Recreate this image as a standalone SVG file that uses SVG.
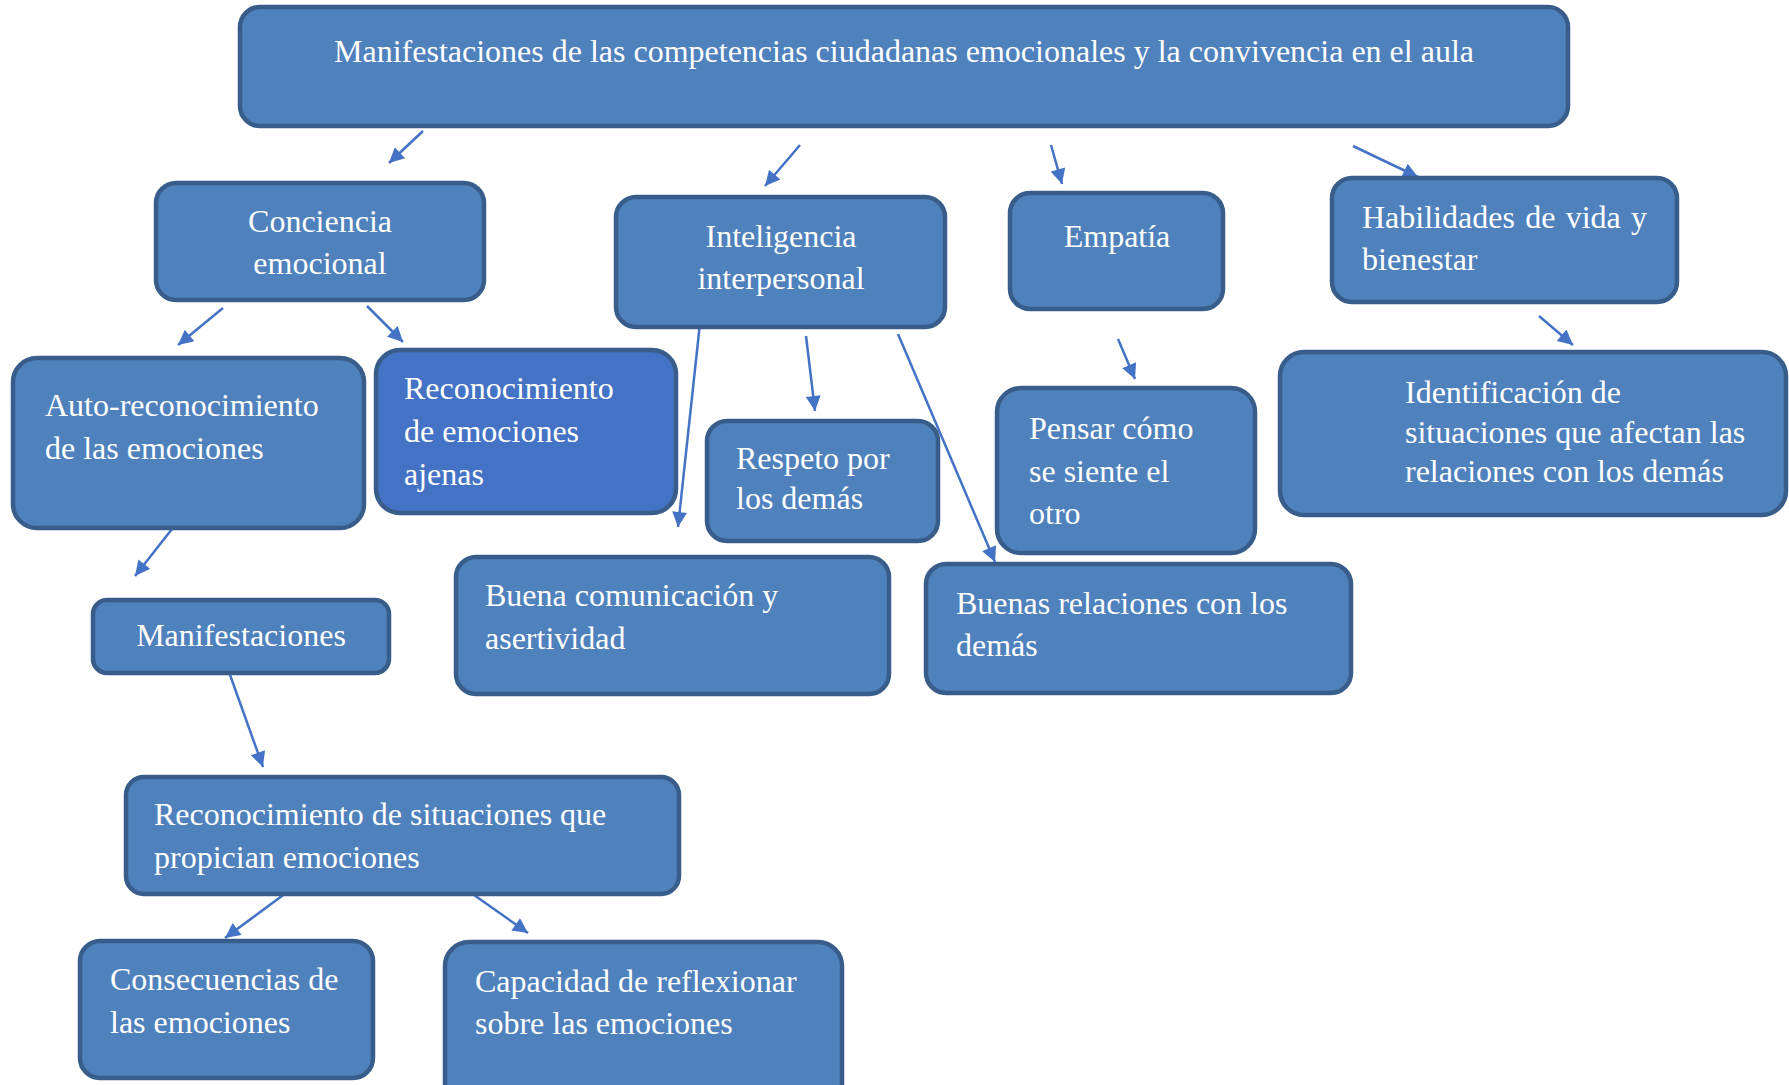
<svg xmlns="http://www.w3.org/2000/svg" width="1789" height="1085" viewBox="0 0 1789 1085">
<style>
.n{fill:#4F81BD;stroke:#385D8A;stroke-width:4.5}
.n2{fill:#4472C4;stroke:#385D8A;stroke-width:4.5}
.t{font-family:"Liberation Serif","Times New Roman",serif;font-size:32px;fill:#FFFFFF}
.c{text-anchor:middle}
.e{stroke:#4472C4;stroke-width:2.5;fill:none;marker-end:url(#ah)}
</style>
<defs>
<marker id="ah" viewBox="0 0 10 10" refX="10" refY="5" markerWidth="17" markerHeight="15" markerUnits="userSpaceOnUse" orient="auto">
<path d="M0,0 L10,5 L0,10 z" fill="#4472C4"/>
</marker>
</defs>
<rect width="1789" height="1085" fill="#FFFFFF"/>
<g id="connectors">
<line class="e" x1="423" y1="131" x2="389" y2="163"/>
<line class="e" x1="800" y1="145" x2="765" y2="186"/>
<line class="e" x1="1051" y1="145" x2="1062" y2="184"/>
<line class="e" x1="1353" y1="146" x2="1418" y2="177"/>
<line class="e" x1="223" y1="308" x2="178" y2="345"/>
<line class="e" x1="367" y1="306" x2="403" y2="342"/>
<line class="e" x1="700" y1="323" x2="678" y2="527"/>
<line class="e" x1="806" y1="336" x2="815" y2="411"/>
<line class="e" x1="898" y1="334" x2="995" y2="562"/>
<line class="e" x1="1118" y1="339" x2="1135" y2="379"/>
<line class="e" x1="1539" y1="316" x2="1573" y2="345"/>
<line class="e" x1="172" y1="529" x2="135" y2="576"/>
<line class="e" x1="229" y1="672" x2="263" y2="767"/>
<line class="e" x1="290" y1="890" x2="225" y2="938"/>
<line class="e" x1="474" y1="895" x2="528" y2="933"/>
</g>
<g id="n-top">
<rect class="n" x="240" y="7" width="1328" height="119" rx="20"/>
<text class="t c" x="904" y="62">Manifestaciones de las competencias ciudadanas emocionales y la convivencia en el aula</text>
</g>
<g id="n-conciencia">
<rect class="n" x="156" y="183" width="328" height="117" rx="20"/>
<text class="t c" x="320" y="232">Conciencia</text>
<text class="t c" x="320" y="274">emocional</text>
</g>
<g id="n-inteligencia">
<rect class="n" x="616" y="197" width="329" height="130" rx="20"/>
<text class="t c" x="781" y="247">Inteligencia</text>
<text class="t c" x="781" y="289">interpersonal</text>
</g>
<g id="n-empatia">
<rect class="n" x="1010" y="193" width="213" height="116" rx="20"/>
<text class="t c" x="1117" y="247">Empatía</text>
</g>
<g id="n-habilidades">
<rect class="n" x="1332" y="178" width="345" height="124" rx="20"/>
<text class="t" x="1362" y="228" word-spacing="2.3">Habilidades de vida y</text>
<text class="t" x="1362" y="270">bienestar</text>
</g>
<g id="n-auto">
<rect class="n" x="13" y="358" width="351" height="170" rx="24"/>
<text class="t" x="45" y="416">Auto-reconocimiento</text>
<text class="t" x="45" y="459">de las emociones</text>
</g>
<g id="n-ajenas">
<rect class="n2" x="376" y="350" width="300" height="163" rx="24"/>
<text class="t" x="404" y="399">Reconocimiento</text>
<text class="t" x="404" y="442">de emociones</text>
<text class="t" x="404" y="485">ajenas</text>
</g>
<g id="n-respeto">
<rect class="n" x="707" y="421" width="231" height="120" rx="20"/>
<text class="t" x="736" y="469">Respeto por</text>
<text class="t" x="736" y="509">los demás</text>
</g>
<g id="n-pensar">
<rect class="n" x="997" y="388" width="258" height="165" rx="24"/>
<text class="t" x="1029" y="439">Pensar cómo</text>
<text class="t" x="1029" y="482">se siente el</text>
<text class="t" x="1029" y="524">otro</text>
</g>
<g id="n-identificacion">
<rect class="n" x="1280" y="352" width="506" height="163" rx="24"/>
<text class="t" x="1405" y="403">Identificación de</text>
<text class="t" x="1405" y="443">situaciones que afectan las</text>
<text class="t" x="1405" y="482">relaciones con los demás</text>
</g>
<g id="n-manifestaciones">
<rect class="n" x="93" y="600" width="296" height="73" rx="14"/>
<text class="t c" x="241" y="646">Manifestaciones</text>
</g>
<g id="n-comunicacion">
<rect class="n" x="456" y="557" width="433" height="137" rx="20"/>
<text class="t" x="485" y="606">Buena comunicación y</text>
<text class="t" x="485" y="649">asertividad</text>
</g>
<g id="n-relaciones">
<rect class="n" x="926" y="564" width="425" height="129" rx="20"/>
<text class="t" x="956" y="614">Buenas relaciones con los</text>
<text class="t" x="956" y="656">demás</text>
</g>
<g id="n-situaciones">
<rect class="n" x="126" y="777" width="553" height="117" rx="18"/>
<text class="t" x="154" y="825">Reconocimiento de situaciones que</text>
<text class="t" x="154" y="868">propician emociones</text>
</g>
<g id="n-consecuencias">
<rect class="n" x="80" y="941" width="293" height="137" rx="20"/>
<text class="t" x="110" y="990">Consecuencias de</text>
<text class="t" x="110" y="1033">las emociones</text>
</g>
<g id="n-capacidad">
<rect class="n" x="445" y="942" width="397" height="170" rx="24"/>
<text class="t" x="475" y="992">Capacidad de reflexionar</text>
<text class="t" x="475" y="1034">sobre las emociones</text>
</g>
</svg>
